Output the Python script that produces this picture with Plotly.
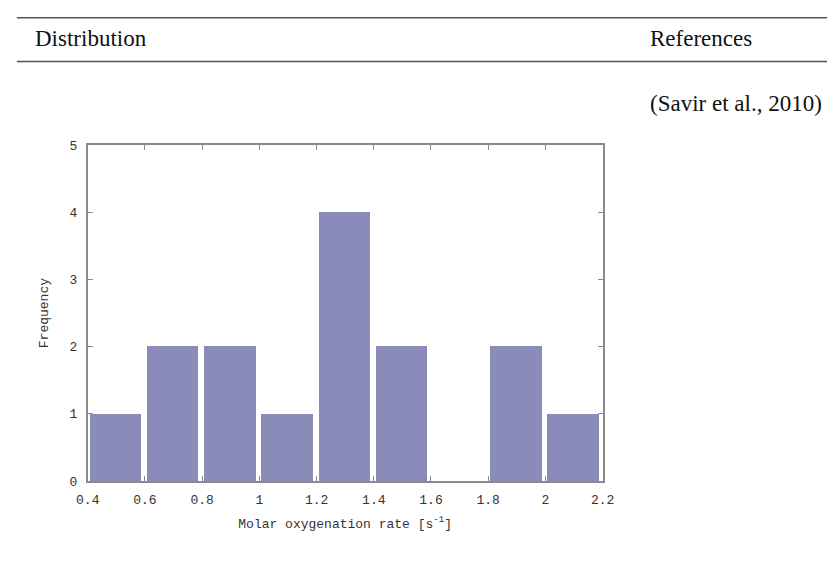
import plotly.graph_objects as go

# Data
bin_starts = [0.4, 0.6, 0.8, 1.0, 1.2, 1.4, 1.6, 1.8, 2.0]
frequency = [1, 2, 2, 1, 4, 2, 0, 2, 1]
x_ticks = [0.4, 0.6, 0.8, 1.0, 1.2, 1.4, 1.6, 1.8, 2.0, 2.2]
x_tick_labels = ["0.4", "0.6", "0.8", "1", "1.2", "1.4", "1.6", "1.8", "2", "2.2"]
y_ticks = [0, 1, 2, 3, 4, 5]
header_left = "Distribution"
header_right = "References"
reference = "(Savir et al., 2010)"

W, H = 839, 564
x0px, x1px = 78, 608
y0px, y1px = 488, 143

fig = go.Figure()
fig.add_trace(go.Bar(
    x=bin_starts, y=frequency, width=0.18, offset=0.006,
    marker=dict(color="#8b8bb9", line=dict(width=0)),
    showlegend=False,
))

axis_color = "#8a8a8a"
mono = "Liberation Mono, Courier New, monospace"

fig.update_layout(
    width=W, height=H,
    margin=dict(l=0, r=0, t=0, b=0),
    paper_bgcolor="white", plot_bgcolor="white",
    xaxis=dict(
        domain=[x0px / W, x1px / W],
        range=[0.4, 2.2],
        tickmode="array", tickvals=x_ticks, ticktext=x_tick_labels,
        ticks="inside", ticklen=5, tickwidth=1.2, tickcolor=axis_color,
        showline=True, linecolor=axis_color, linewidth=1.6, mirror="ticks",
        showgrid=False, zeroline=False,
        tickfont=dict(family=mono, size=13, color="#333333"),
        ticklabelstandoff=6,
        title=dict(text="Molar oxygenation rate [s<sup>-1</sup>]",
                   font=dict(family=mono, size=13, color="#333333"), standoff=11),
    ),
    yaxis=dict(
        domain=[(H - y0px) / H, (H - y1px) / H],
        range=[0, 5],
        tickmode="array", tickvals=y_ticks,
        ticks="inside", ticklen=5, tickwidth=1.2, tickcolor=axis_color,
        showline=True, linecolor=axis_color, linewidth=1.6, mirror="ticks",
        showgrid=False, zeroline=False,
        tickfont=dict(family=mono, size=13, color="#333333"),
        ticklabelstandoff=6,
        title=dict(text="Frequency", font=dict(family=mono, size=13, color="#333333"), standoff=18),
    ),
    bargap=0,
)

serif = "Liberation Serif, Times New Roman, serif"
fig.add_shape(type="line", xref="paper", yref="paper", x0=5 / W, x1=1, y0=1 - 12 / H, y1=1 - 12 / H,
              line=dict(color="#555555", width=1.5))
fig.add_shape(type="line", xref="paper", yref="paper", x0=5 / W, x1=1, y0=1 - 57 / H, y1=1 - 57 / H,
              line=dict(color="#555555", width=1.5))
fig.add_annotation(text=header_left, xref="paper", yref="paper", x=22 / W, y=1 - 33 / H,
                   xanchor="left", yanchor="middle", showarrow=False,
                   font=dict(family=serif, size=23, color="#111111"))
fig.add_annotation(text=header_right, xref="paper", yref="paper", x=764 / W, y=1 - 33 / H,
                   xanchor="right", yanchor="middle", showarrow=False,
                   font=dict(family=serif, size=23, color="#111111"))
fig.add_annotation(text=reference, xref="paper", yref="paper", x=836 / W, y=1 - 100 / H,
                   xanchor="right", yanchor="middle", showarrow=False,
                   font=dict(family=serif, size=23, color="#111111"))

fig.write_html("out.html", config={"displayModeBar": False},
               post_script="document.body.style.margin='0';document.body.style.overflow='hidden';")
